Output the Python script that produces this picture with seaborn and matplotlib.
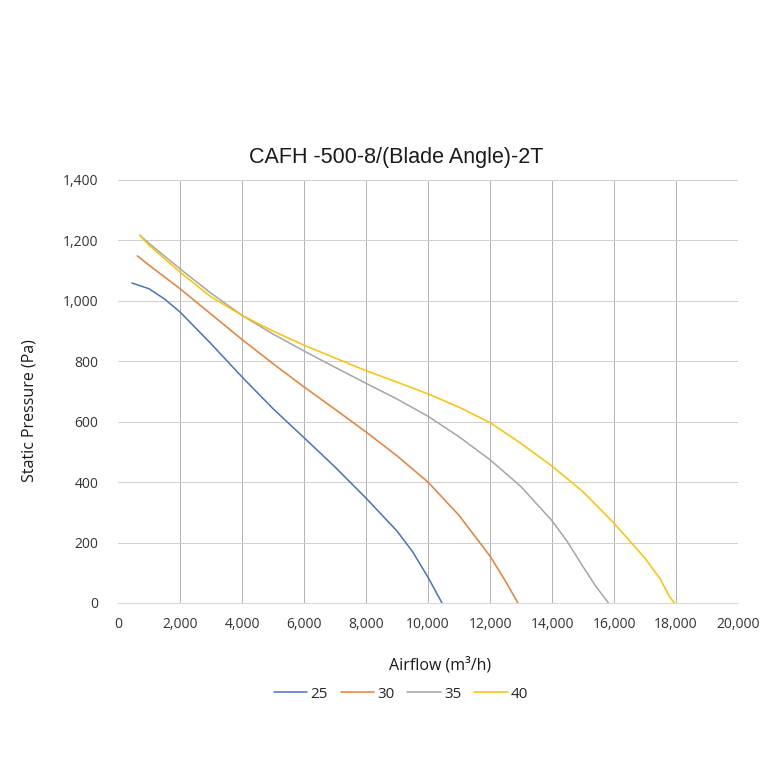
import pandas as pd
import matplotlib
matplotlib.use("Agg")
import matplotlib.pyplot as plt
from matplotlib.ticker import StrMethodFormatter
import seaborn as sns

# blade angle curves (airflow m3/h, static pressure Pa)
x25 = [450, 1000, 1500, 2000, 3000, 4000, 5000, 6000, 7000, 8000, 9000, 9500, 10000, 10450]
y25 = [1059, 1040, 1006, 963, 858, 748, 643, 547, 450, 347, 238, 170, 85, 0]

x30 = [620, 1000, 2000, 3000, 4000, 5000, 6000, 7000, 8000, 9000, 10000, 11000, 12000, 12500, 12900]
y30 = [1149, 1118, 1040, 956, 872, 792, 715, 641, 566, 487, 400, 290, 155, 72, 0]

x35 = [700, 1000, 2000, 3000, 4000, 5000, 6000, 7000, 8000, 9000, 10000, 11000, 12000, 13000,
       14000, 14500, 15000, 15400, 15820]
y35 = [1217, 1190, 1106, 1025, 952, 890, 834, 780, 727, 675, 618, 550, 474, 385,
       272, 202, 120, 57, 0]

x40 = [700, 1000, 2000, 3000, 4000, 5000, 6000, 7000, 8000, 9000, 10000, 11000, 12000, 13000,
       14000, 15000, 16000, 17000, 17500, 17780, 17950]
y40 = [1217, 1184, 1095, 1013, 952, 900, 853, 811, 769, 731, 692, 648, 597, 528,
       453, 368, 264, 148, 78, 22, 0]

angles = ['25', '30', '35', '40']
colors = ['#4472C4', '#ED7D31', '#A5A5A5', '#FFC000']

frames = []
for a, xs, ys in zip(angles, [x25, x30, x35, x40], [y25, y30, y35, y40]):
    frames.append(pd.DataFrame({'Airflow': xs, 'Pressure': ys, 'Angle': a}))
df = pd.concat(frames, ignore_index=True)

sns.set_style('white')
plt.rcParams['font.family'] = ['Open Sans', 'DejaVu Sans']

fig = plt.figure(figsize=(7.6, 7.6), dpi=100)
ax = fig.add_axes([0.1553, 0.2066, 0.8158, 0.5566])

sns.lineplot(data=df, x='Airflow', y='Pressure', hue='Angle', hue_order=angles,
             palette=dict(zip(angles, colors)), estimator=None, sort=False,
             linewidth=1.1, ax=ax)

ax.set_xlim(0, 20000)
ax.set_ylim(0, 1400)
ax.set_xticks(range(0, 20001, 2000))
ax.set_yticks(range(0, 1401, 200))
ax.xaxis.set_major_formatter(StrMethodFormatter('{x:,.0f}'))
ax.yaxis.set_major_formatter(StrMethodFormatter('{x:,.0f}'))
ax.tick_params(axis='both', length=0, labelsize=10, colors='#333333')
ax.tick_params(axis='x', pad=10)
ax.tick_params(axis='y', pad=14)

# excel-like grid: darker verticals, lighter horizontals
for v in range(2000, 20001, 2000):
    ax.axvline(v, color='#b3b3b3', linewidth=0.72, zorder=0)
for h in range(200, 1401, 200):
    ax.axhline(h, color='#d0d0d0', linewidth=0.72, zorder=0)

for s in ['top', 'right', 'left']:
    ax.spines[s].set_visible(False)
ax.spines['bottom'].set_color('#d9d9d9')
ax.spines['bottom'].set_linewidth(0.8)

ax.set_title('CAFH -500-8/(Blade Angle)-2T', fontsize=15.5, family='Liberation Sans',
             color='#1a1a1a', x=0.448, pad=12)
ax.set_xlabel('Airflow (m³/h)', fontsize=11.5, color='#1a1a1a')
ax.set_ylabel('Static Pressure (Pa)', fontsize=11.5, color='#1a1a1a')
ax.xaxis.set_label_coords(0.52, -0.128)
ax.yaxis.set_label_coords(-0.13, 0.456)

ax.legend(loc='center', bbox_to_anchor=(401 / 760, 66 / 760), bbox_transform=fig.transFigure,
          ncol=4, frameon=False, fontsize=11, handlelength=2.2, handletextpad=0.2,
          columnspacing=0.85)

plt.savefig('out.png', dpi=100)
